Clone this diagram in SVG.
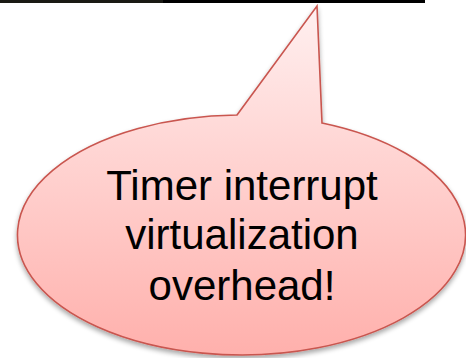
<svg xmlns="http://www.w3.org/2000/svg" width="466" height="358" viewBox="0 0 466 358">
<defs>
<linearGradient id="g" x1="0" y1="0" x2="0" y2="1" gradientUnits="objectBoundingBox">
<stop offset="0" stop-color="#fff0f0"/>
<stop offset="0.45" stop-color="#ffd3d1"/>
<stop offset="1" stop-color="#ffb0ac"/>
</linearGradient>
<filter id="sh" x="-10%" y="-10%" width="120%" height="125%">
<feGaussianBlur in="SourceAlpha" stdDeviation="2.5"/>
<feOffset dx="0" dy="3" result="b"/>
<feComponentTransfer><feFuncA type="linear" slope="0.35"/></feComponentTransfer>
<feMerge><feMergeNode/><feMergeNode in="SourceGraphic"/></feMerge>
</filter>
<style>
.t{font-family:"Liberation Sans",Arial,sans-serif;font-size:42px;fill:#000;text-anchor:middle}
</style>
</defs>
<g id="topline">
<rect x="0" y="0" width="163" height="3" fill="#1a1a14"/>
<rect x="163" y="0" width="262" height="3" fill="#000"/>
</g>
<g id="callout">
<path d="M237,115 L317,6 L322,123 A224,120 0 1 1 237,115 Z" fill="url(#g)" stroke="#c9564f" stroke-width="1.6" stroke-linejoin="miter" filter="url(#sh)"/>
<text class="t" x="242" y="200">Timer interrupt</text>
<text class="t" x="242" y="249">virtualization</text>
<text class="t" x="242" y="300">overhead!</text>
</g>
</svg>
